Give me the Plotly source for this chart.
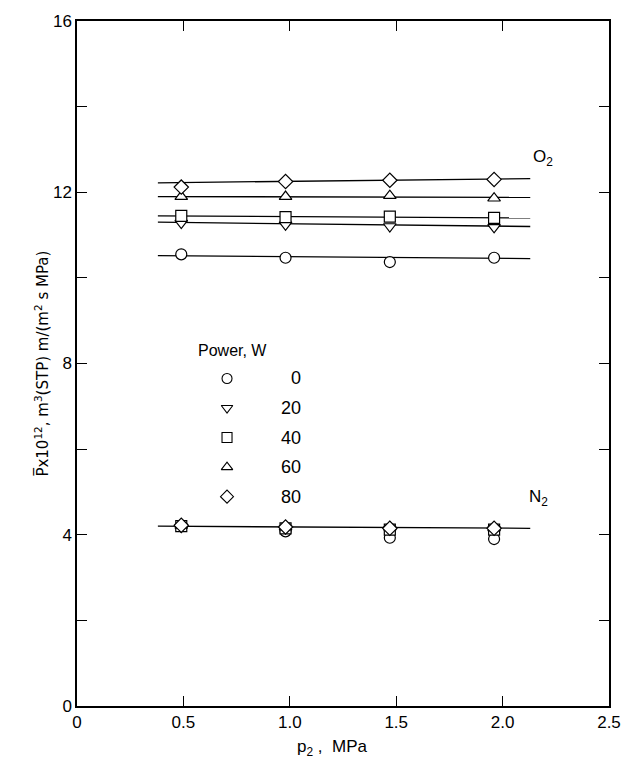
import plotly.graph_objects as go

# ---- data ----
pressure = [0.49, 0.98, 1.47, 1.96]          # p2, MPa
powers = [0, 20, 40, 60, 80]                  # W
symbols = ["circle", "triangle-down", "square", "triangle-up", "diamond"]

o2_perm = {
    0:  [10.55, 10.47, 10.37, 10.47],
    20: [11.28, 11.24, 11.20, 11.18],
    40: [11.45, 11.42, 11.43, 11.40],
    60: [11.90, 11.90, 11.92, 11.86],
    80: [12.12, 12.25, 12.28, 12.30],
}
n2_perm = {
    0:  [4.20, 4.08, 3.93, 3.90],
    20: [4.18, 4.15, 4.12, 4.12],
    40: [4.20, 4.15, 4.12, 4.12],
    60: [4.22, 4.18, 4.18, 4.16],
    80: [4.22, 4.18, 4.15, 4.15],
}
# fitted lines: (x_start, x_end), values at ends
fit_x = [0.38, 2.13]
o2_fit = {
    0:  [10.52, 10.45],
    20: [11.30, 11.20],
    40: [11.45, 11.40],
    60: [11.90, 11.88],
    80: [12.22, 12.32],
}
n2_fit = [4.20, 4.15]

x_ticks = [0, 0.5, 1.0, 1.5, 2.0, 2.5]
x_ticktext = ["0", "0.5", "1.0", "1.5", "2.0", "2.5"]
y_ticks = [0, 2, 4, 6, 8, 10, 12, 14, 16]
y_ticktext = ["0", "", "4", "", "8", "", "12", "", "16"]

FONT = "Liberation Sans"
fig = go.Figure()

line_style = dict(color="black", width=1.3)
for p in powers:
    fig.add_trace(go.Scatter(x=fit_x, y=o2_fit[p], mode="lines", line=line_style,
                             showlegend=False, hoverinfo="skip"))
fig.add_trace(go.Scatter(x=fit_x, y=n2_fit, mode="lines", line=line_style,
                         showlegend=False, hoverinfo="skip"))

for p, s in zip(powers, symbols):
    for data in (o2_perm, n2_perm):
        fig.add_trace(go.Scatter(
            x=pressure, y=data[p], mode="markers",
            marker=dict(symbol=s, size=11, color="white",
                        line=dict(color="black", width=1.2)),
            showlegend=False))

# ---- hand-drawn legend in the plot (layout positions) ----
leg_marker_x = 0.705
leg_text_x = 1.06
leg_y0 = 7.65
leg_dy = 0.69
leg_ys = [leg_y0 - i * leg_dy for i in range(len(powers))]
for p, s, y in zip(powers, symbols, leg_ys):
    fig.add_trace(go.Scatter(
        x=[leg_marker_x], y=[y], mode="markers",
        marker=dict(symbol=s, size=10, color="white",
                    line=dict(color="black", width=1.1)),
        showlegend=False, hoverinfo="skip"))
    fig.add_annotation(x=leg_text_x, y=y, text=str(p), showarrow=False,
                       xanchor="right", yanchor="middle",
                       font=dict(family=FONT, size=18, color="black"))
fig.add_annotation(x=0.56, y=8.3, text="Power, W", showarrow=False,
                   xanchor="left", yanchor="middle",
                   font=dict(family=FONT, size=16, color="black"))

# gas labels
fig.add_annotation(x=2.19, y=12.8, text="O<sub>2</sub>", showarrow=False,
                   font=dict(family=FONT, size=17, color="black"))
fig.add_annotation(x=2.17, y=4.86, text="N<sub>2</sub>", showarrow=False,
                   font=dict(family=FONT, size=17, color="black"))

# axis titles
fig.add_annotation(x=-0.09, y=0.5, xref="paper", yref="paper",
                   text="P\u0305x10<sup>12</sup>, m<sup>3</sup>(STP) m/(m<sup>2</sup> s MPa)",
                   textangle=-90, showarrow=False,
                   font=dict(family="DejaVu Sans", size=15, color="black"))
fig.add_annotation(x=0.48, y=-0.08, xref="paper", yref="paper",
                   text="p<sub>2</sub> ,  MPa", showarrow=False,
                   font=dict(family=FONT, size=17, color="black"))

axis_common = dict(showline=True, linecolor="black", linewidth=1.5, mirror="allticks",
                   ticks="inside", ticklen=10, tickwidth=1.2, tickcolor="black",
                   showgrid=False, zeroline=False,
                   tickfont=dict(family=FONT, size=17, color="black"))
fig.update_xaxes(range=[0, 2.5], tickvals=x_ticks, ticktext=x_ticktext, **axis_common)
fig.update_yaxes(range=[0, 16], tickvals=y_ticks, ticktext=y_ticktext, **axis_common)

fig.update_layout(width=633, height=763, margin=dict(l=77, r=18, t=18, b=57),
                  plot_bgcolor="white", paper_bgcolor="white", showlegend=False)

fig.write_html("out.html")
